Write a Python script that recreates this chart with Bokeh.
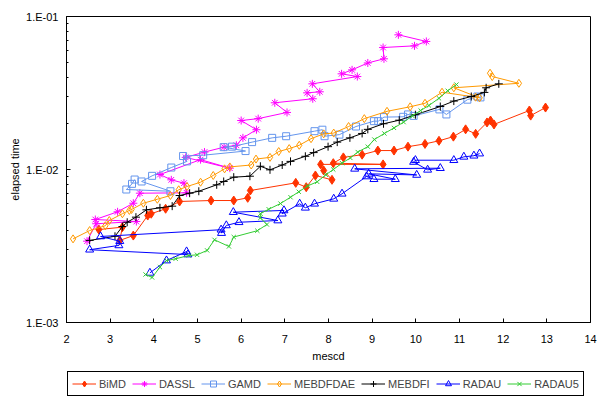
from bokeh.plotting import figure
from bokeh.layouts import column
from bokeh.models import Range1d, FixedTicker, CustomJSTickFormatter, Legend, LegendItem
from bokeh.embed import file_html
from bokeh.resources import INLINE

# ---- data ----
bimd_x = [2.74, 3.28, 3.22, 3.53, 3.86, 3.94, 4.27, 4.59, 5.31, 5.83, 6.15, 6.21, 7.25, 7.49, 7.70, 8.08,
          7.89, 7.82, 9.25, 8.11, 8.34, 8.77, 9.13, 9.50, 9.82, 10.21, 10.53, 10.86, 11.14, 11.37, 11.63,
          11.71, 11.79, 12.60, 12.63, 12.97]
bimd_y = [0.00405, 0.00420, 0.00344, 0.00370, 0.00500, 0.00514, 0.00554, 0.00618, 0.00627, 0.00627, 0.00653,
          0.00729, 0.00818, 0.00766, 0.00914, 0.00856, 0.00985, 0.0108, 0.0108, 0.0110, 0.0120, 0.0125,
          0.0133, 0.0133, 0.0141, 0.0147, 0.0154, 0.0164, 0.0183, 0.0171, 0.0203, 0.0209, 0.0197, 0.0243,
          0.0225, 0.0254]

dassl_x = [2.47, 2.68, 3.60, 2.66, 3.17, 3.53, 3.68, 4.75, 4.69, 4.40, 4.14, 5.07, 5.74, 4.73, 5.16, 5.61,
           5.89, 6.04, 6.35, 6.00, 6.39, 7.05, 6.77, 7.64, 7.51, 7.80, 7.63, 8.66, 8.30, 8.54, 8.90, 9.27,
           9.25, 9.97, 10.24, 9.60]
dassl_y = [0.00340, 0.00442, 0.00457, 0.00471, 0.00529, 0.00602, 0.00700, 0.00704, 0.00814, 0.00856, 0.00927,
           0.0116, 0.0102, 0.0120, 0.0130, 0.0140, 0.0144, 0.0161, 0.0182, 0.0209, 0.0215, 0.0236, 0.0273,
           0.0290, 0.0317, 0.0322, 0.0363, 0.0405, 0.0422, 0.0448, 0.0497, 0.0529, 0.0627, 0.0643, 0.0687,
           0.0759]

gamd_x = [3.56, 3.50, 3.37, 4.38, 3.72, 3.96, 4.40, 4.76, 4.67, 5.13, 6.10, 5.60, 5.79, 6.25, 6.71, 7.03,
          7.68, 7.86, 7.91, 8.25, 8.63, 9.04, 9.14, 9.27, 9.71, 9.82, 9.95, 10.54, 10.70, 11.18, 11.41, 11.48]
gamd_y = [0.00860, 0.00806, 0.00740, 0.00721, 0.00835, 0.00909, 0.0103, 0.0113, 0.01225, 0.0124, 0.0132,
          0.0140, 0.0141, 0.0151, 0.0161, 0.0165, 0.0178, 0.0182, 0.0165, 0.0169, 0.0191, 0.0207, 0.0207,
          0.0220, 0.0221, 0.0229, 0.0224, 0.0247, 0.0229, 0.0286, 0.0300, 0.0296]

mebdfdae_x = [2.15, 2.53, 2.89, 2.98, 3.28, 3.44, 3.49, 3.76, 4.08, 4.38, 4.57, 4.76, 5.07, 5.36, 5.62, 5.74,
              6.23, 6.34, 6.66, 6.86, 7.10, 7.33, 7.60, 7.89, 8.12, 8.46, 8.82, 9.34, 9.87, 10.21, 10.60,
              11.37, 11.46, 10.87, 12.36, 11.75, 11.70]
mebdfdae_y = [0.00352, 0.00399, 0.00429, 0.00464, 0.00514, 0.00540, 0.00548, 0.00602, 0.00639, 0.00676,
              0.00737, 0.00774, 0.00826, 0.00914, 0.0101, 0.0104, 0.0107, 0.0117, 0.0120, 0.0131, 0.0137,
              0.0144, 0.0159, 0.0171, 0.0173, 0.0191, 0.0215, 0.0240, 0.0257, 0.0271, 0.0320, 0.0297,
              0.0294, 0.0342, 0.0366, 0.0405, 0.0426]

mebdfi_x = [2.53, 3.11, 3.28, 3.39, 3.59, 3.83, 4.14, 4.42, 4.59, 4.82, 5.03, 5.44, 5.60, 5.83, 6.20, 6.44,
            6.66, 6.94, 7.13, 7.47, 7.66, 7.99, 8.20, 8.49, 8.77, 8.90, 9.26, 9.62, 9.99, 10.56, 10.87,
            11.27, 11.57, 11.61, 11.90]
mebdfi_y = [0.00344, 0.00366, 0.00424, 0.00452, 0.00488, 0.00545, 0.00562, 0.00576, 0.00676, 0.00700,
            0.00721, 0.00794, 0.00835, 0.00891, 0.00904, 0.0105, 0.00995, 0.0107, 0.0113, 0.0122, 0.0129,
            0.0141, 0.0151, 0.0161, 0.0172, 0.0183, 0.0199, 0.0210, 0.0228, 0.0258, 0.0280, 0.0300, 0.0319,
            0.0342, 0.0363]

radau_x = [3.91, 4.29, 4.75, 4.78, 2.53, 3.20, 3.22, 2.78, 5.54, 5.55, 5.66, 5.95, 6.84, 5.82, 6.98, 6.94,
           7.34, 7.47, 7.68, 8.12, 8.31, 8.87, 9.04, 9.53, 8.92, 10.02, 8.60, 10.56, 10.27, 9.95, 9.99,
           10.87, 11.10, 11.33, 11.46]
radau_y = [0.00211, 0.00254, 0.00291, 0.00278, 0.00299, 0.00319, 0.00340, 0.00365, 0.00404, 0.00384,
           0.00431, 0.00452, 0.00464, 0.00526, 0.00540, 0.00514, 0.00597, 0.00562, 0.00597, 0.00643,
           0.00694, 0.00900, 0.00864, 0.00864, 0.00937, 0.00921, 0.0101, 0.0102, 0.00995, 0.0112, 0.0115,
           0.0115, 0.0121, 0.0123, 0.0127]

radau5_x = [3.81, 3.96, 4.14, 4.29, 4.50, 4.80, 4.99, 5.22, 5.39, 5.72, 5.83, 6.37, 6.59, 6.44, 6.44, 6.63,
            6.90, 7.13, 7.32, 7.52, 7.74, 7.94, 8.11, 8.31, 8.50, 8.67, 8.90, 9.05, 9.28, 9.50, 9.72, 9.92,
            10.11, 10.30, 10.53, 10.73, 10.93]
radau5_y = [0.00206, 0.00197, 0.00230, 0.00254, 0.00261, 0.00274, 0.00277, 0.00296, 0.00347, 0.00314,
            0.00362, 0.00398, 0.00437, 0.00483, 0.00514, 0.00550, 0.00599, 0.00659, 0.00715, 0.00780,
            0.00831, 0.00924, 0.0100, 0.0110, 0.0119, 0.0130, 0.0141, 0.0157, 0.0172, 0.0187, 0.0204,
            0.0224, 0.0243, 0.0262, 0.0292, 0.0327, 0.0359]

x_ticks = [2, 3, 4, 5, 6, 7, 8, 9, 10, 11, 12, 13, 14]
y_ticks = [1e-3, 1e-2, 1e-1]
y_minor = [2e-3, 3e-3, 4e-3, 5e-3, 6e-3, 7e-3, 8e-3, 9e-3, 2e-2, 3e-2, 4e-2, 5e-2, 6e-2, 7e-2, 8e-2, 9e-2]

series = [
    ("BiMD", bimd_x, bimd_y, "#FF3300", "diamond", 9, "#FF3300"),
    ("DASSL", dassl_x, dassl_y, "#FF00FF", "asterisk", 8, None),
    ("GAMD", gamd_x, gamd_y, "#6495ED", "square", 7, None),
    ("MEBDFDAE", mebdfdae_x, mebdfdae_y, "#FF9900", "diamond", 8, None),
    ("MEBDFI", mebdfi_x, mebdfi_y, "#000000", "cross", 8, None),
    ("RADAU", radau_x, radau_y, "#0000FF", "triangle", 8, None),
    ("RADAU5", radau5_x, radau5_y, "#33CC33", "x", 6, None),
]

FONT = "Liberation Sans"

p = figure(width=600, height=370, x_range=Range1d(2, 14), y_range=Range1d(1e-3, 1e-1),
           y_axis_type="log", output_backend="svg", toolbar_location=None,
           min_border_left=66, min_border_right=10, min_border_top=16, min_border_bottom=48)
p.xgrid.visible = False
p.ygrid.visible = False
p.outline_line_color = "black"
p.outline_line_alpha = 1
p.outline_line_width = 1

# strip below the chart that carries the legend (its own glyphs lie outside its view)
lg = figure(width=600, height=30, x_range=Range1d(100, 101), y_range=Range1d(100, 101),
            output_backend="svg", toolbar_location=None, x_axis_location=None,
            y_axis_location=None, min_border=0)
lg.xgrid.visible = False
lg.ygrid.visible = False
lg.outline_line_color = None

items = []
for name, xs, ys, color, marker, size, fill in series:
    p.line(xs, ys, line_color=color, line_width=1)
    p.scatter(xs, ys, marker=marker, size=size, line_color=color, line_width=1,
              fill_color=fill, fill_alpha=1 if fill else 0)
    kl = lg.line(xs, ys, line_color=color, line_width=1)
    ks = lg.scatter(xs, ys, marker=marker, size=size, line_color=color, line_width=1,
                    fill_color=fill, fill_alpha=1 if fill else 0)
    items.append(LegendItem(label=name, renderers=[kl, ks]))

p.xaxis.ticker = FixedTicker(ticks=x_ticks)
p.yaxis.ticker = FixedTicker(ticks=y_ticks, minor_ticks=y_minor)
p.yaxis.formatter = CustomJSTickFormatter(code="""
const e = Math.round(Math.log10(tick));
return "1.E" + (e < 0 ? "-" : "+") + String(Math.abs(e)).padStart(2, "0");
""")

for ax in (p.xaxis[0], p.yaxis[0]):
    ax.axis_line_color = "black"
    ax.major_tick_line_color = "black"
    ax.minor_tick_line_color = "black"
    ax.major_tick_in = 4
    ax.major_tick_out = 0
    ax.minor_tick_in = 2
    ax.minor_tick_out = 0
    ax.major_label_text_font = FONT
    ax.major_label_text_font_size = "11px"
    ax.major_label_text_color = "black"
    ax.axis_label_text_font = FONT
    ax.axis_label_text_font_size = "11px"
    ax.axis_label_text_font_style = "normal"
    ax.axis_label_text_color = "black"

p.xaxis.minor_tick_in = 0
p.xaxis.axis_label = "mescd"
p.yaxis.axis_label = "elapsed time"
p.xaxis.major_label_standoff = 12
p.xaxis.axis_label_standoff = 4
p.yaxis.major_label_standoff = 8
p.yaxis.axis_label_standoff = 2

legend = Legend(items=items, orientation="horizontal", location=(1, 4),
                border_line_color="black", border_line_width=1, border_line_alpha=1,
                padding=4, spacing=6, margin=0, glyph_width=24, glyph_height=15,
                label_height=15, label_standoff=3, label_text_font=FONT,
                label_text_font_size="11px", background_fill_color="white", background_fill_alpha=1)
lg.add_layout(legend, "center")

layout = column(p, lg, spacing=0)
open("out.html", "w").write(file_html(layout, INLINE))
